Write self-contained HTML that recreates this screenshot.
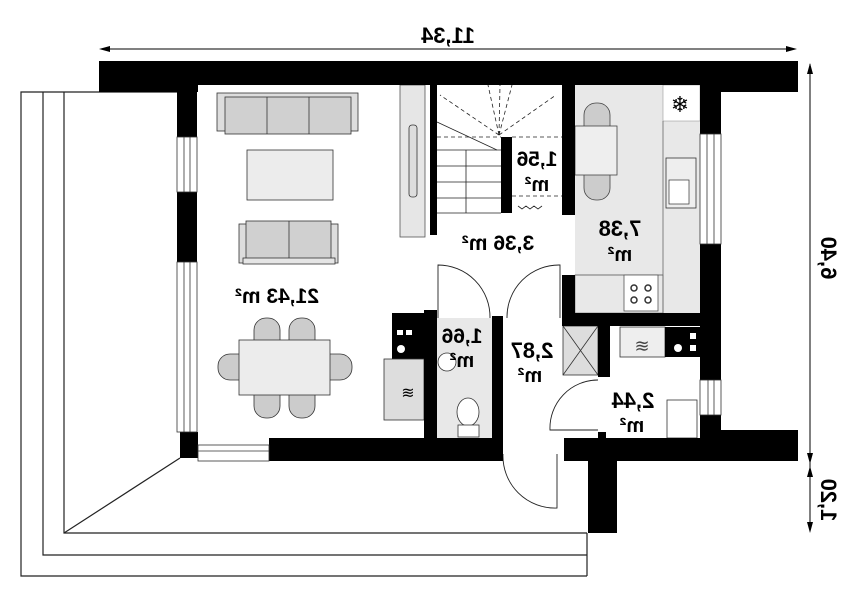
<!DOCTYPE html>
<html><head><meta charset="utf-8"><style>
html,body{margin:0;padding:0;background:#fff;width:860px;height:598px;overflow:hidden}
svg{display:block}
text{font-family:"Liberation Sans",sans-serif;font-weight:bold;fill:#000}
</style></head><body>
<svg width="860" height="598" viewBox="0 0 860 598" xmlns="http://www.w3.org/2000/svg">
<!-- terrace lines -->
<g fill="none" stroke="#222" stroke-width="1.2">
<path d="M177 92 H21 V576 H587"/>
<path d="M43 92 V555 H587"/>
<path d="M64 92 V533 H587"/>
<path d="M64 533 L180 458"/>
<path d="M587 533 V576"/>
</g>
<!-- dimension lines -->
<g stroke="#000" stroke-width="1">
<line x1="101" y1="49" x2="795" y2="49"/>
<line x1="810" y1="64" x2="810" y2="530"/>
</g>
<polygon points="99,49 110,46 110,52" fill="#000"/>
<polygon points="797,49 786,46 786,52" fill="#000"/>
<polygon points="810,63 807,74 813,74" fill="#000"/>
<polygon points="810,464 807,453 813,453" fill="#000"/>
<polygon points="810,466 807,477 813,477" fill="#000"/>
<polygon points="810,533 807,522 813,522" fill="#000"/>
<!-- kitchen grey -->
<rect x="575" y="85" width="125" height="228" fill="#e8e8e8"/>
<rect x="663" y="85" width="37" height="36" fill="#fff" stroke="#888" stroke-width="0.5"/>
<rect x="575" y="275" width="88" height="38" fill="#e8e8e8" stroke="#666" stroke-width="0.6"/>
<line x1="663" y1="121" x2="663" y2="313" stroke="#666" stroke-width="0.8"/>
<line x1="575" y1="275" x2="663" y2="275" stroke="#666" stroke-width="0.8"/>
<!-- stove -->
<rect x="624" y="275" width="34" height="36" fill="#fff" stroke="#555" stroke-width="0.8"/>
<g fill="none" stroke="#333" stroke-width="1.5"><circle cx="634" cy="288" r="3"/><circle cx="648" cy="288" r="3"/><circle cx="634" cy="300" r="3"/><circle cx="648" cy="300" r="3"/></g>
<!-- sink -->
<rect x="666" y="158" width="30" height="50" fill="#eee" stroke="#333" stroke-width="0.8"/>
<rect x="669" y="180" width="20" height="24" fill="#fff" stroke="#333" stroke-width="0.7"/>
<text x="680" y="112" text-anchor="middle" style="font-size:22px;font-weight:normal">❄</text>
<!-- kitchen table -->
<rect x="584" y="103" width="26" height="97" rx="12" fill="#ccc" stroke="#444" stroke-width="0.8"/>
<rect x="575" y="126" width="42" height="49" fill="#eee" stroke="#444" stroke-width="0.8"/>
<!-- stairs -->
<g stroke="#222" stroke-width="0.8" fill="none">
<line x1="437" y1="150" x2="501" y2="150"/><line x1="437" y1="166" x2="501" y2="166"/>
<line x1="437" y1="182" x2="501" y2="182"/><line x1="437" y1="198" x2="501" y2="198"/>
<line x1="466" y1="150" x2="466" y2="213"/>
<line x1="437" y1="213" x2="501" y2="213"/>
<path d="M437 122 L497 150" />
<g stroke-dasharray="4,3"><line x1="499" y1="135" x2="440" y2="95"/><line x1="499" y1="135" x2="488" y2="85"/><line x1="499" y1="135" x2="500" y2="85"/><line x1="499" y1="135" x2="512" y2="85"/><line x1="499" y1="135" x2="556" y2="95"/><line x1="437" y1="137" x2="501" y2="137"/><line x1="512" y1="137" x2="562" y2="137"/><line x1="512" y1="196" x2="562" y2="196"/></g>
<path d="M518 206 l4 3 l4 -3 l4 3 l4 -3 l4 3 l4 -3"/>
</g>
<!-- TV unit -->
<rect x="400" y="85" width="25" height="152" fill="#e6e6e6" stroke="#555" stroke-width="0.8"/>
<rect x="409" y="125" width="8" height="72" rx="3" fill="#ddd" stroke="#333" stroke-width="0.8"/>
<!-- sofas -->
<g stroke="#333" stroke-width="0.8">
<rect x="217" y="93" width="141" height="38" fill="#ddd"/>
<rect x="225" y="97" width="126" height="37" fill="#d0d0d0"/>
<line x1="267" y1="97" x2="267" y2="134"/><line x1="309" y1="97" x2="309" y2="134"/>
<rect x="247" y="150" width="86" height="50" fill="#ececec"/>
<rect x="239" y="224" width="99" height="39" fill="#ddd"/>
<rect x="246" y="221" width="85" height="38" fill="#d0d0d0"/>
<line x1="289" y1="221" x2="289" y2="259"/>
<rect x="243" y="258" width="92" height="6" fill="#e5e5e5"/>
<!-- dining -->
<rect x="254" y="318" width="26" height="100" rx="12" fill="#ccc"/>
<rect x="289" y="318" width="26" height="100" rx="12" fill="#ccc"/>
<rect x="218" y="354" width="134" height="26" rx="12" fill="#ccc"/>
<rect x="239" y="340" width="91" height="55" fill="#ececec"/>
</g>
<!-- bathroom -->
<rect x="437" y="318" width="55" height="120" fill="#e8e8e8"/>
<circle cx="447" cy="362" r="9" fill="#fff" stroke="#333" stroke-width="0.8"/>
<ellipse cx="468" cy="412" rx="11" ry="14" fill="#fff" stroke="#333" stroke-width="0.8"/>
<rect x="458" y="425" width="21" height="12" fill="#fff" stroke="#333" stroke-width="0.8"/>
<!-- boiler/cabinet -->
<rect x="392" y="313" width="38" height="48" fill="#000"/>
<rect x="384" y="359" width="40" height="61" fill="#ddd" stroke="#333" stroke-width="0.8"/>
<rect x="397" y="330" width="6" height="5" fill="#fff"/><rect x="406" y="330" width="6" height="5" fill="#fff"/><circle cx="401" cy="349" r="4" fill="#fff"/>
<text x="408" y="398" text-anchor="middle" style="font-size:16px;font-weight:normal">≋</text>
<!-- shower/utility -->
<rect x="563" y="326" width="35" height="49" fill="#ddd" stroke="#333" stroke-width="0.8"/>
<path d="M563 326 L598 375 M598 326 L563 375" stroke="#333" stroke-width="0.8"/>
<rect x="620" y="327" width="45" height="30" fill="#eee" stroke="#333" stroke-width="0.8"/>
<text x="642" y="352" text-anchor="middle" style="font-size:18px;font-weight:normal;fill:#444">≋</text>
<rect x="665" y="327" width="35" height="30" fill="#000"/>
<circle cx="678" cy="348" r="4" fill="#fff"/><rect x="690" y="333" width="6" height="6" fill="#fff"/><rect x="690" y="345" width="6" height="6" fill="#fff"/>
<rect x="667" y="400" width="30" height="38" fill="#fff" stroke="#333" stroke-width="0.8"/>
<!-- door arcs -->
<g fill="none" stroke="#222" stroke-width="0.9">
<path d="M438 318 V265 A52 52 0 0 1 490 318"/>
<path d="M560 318 V265 A52 52 0 0 0 507 318"/>
<path d="M598 380 A48 48 0 0 0 550 430 H598"/>
<path d="M503 454 A52 52 0 0 0 557 508 V454"/>
</g>
<!-- walls -->
<g fill="#000">
<rect x="99" y="61" width="699" height="24"/>
<rect x="99" y="85" width="99" height="7"/>
<rect x="700" y="85" width="98" height="7"/>
<rect x="177" y="85" width="20" height="52"/>
<rect x="177" y="192" width="20" height="70"/>
<rect x="180" y="432" width="18" height="26"/>
<rect x="269" y="438" width="234" height="23"/>
<rect x="564" y="438" width="157" height="23"/>
<rect x="721" y="430" width="77" height="31"/>
<rect x="588" y="461" width="29" height="72"/>
<rect x="700" y="92" width="21" height="42"/>
<rect x="700" y="244" width="21" height="136"/>
<rect x="700" y="415" width="21" height="23"/>
<rect x="430" y="85" width="7" height="150"/>
<rect x="501" y="137" width="11" height="76"/>
<rect x="562" y="85" width="13" height="130"/>
<rect x="562" y="275" width="13" height="51"/>
<rect x="562" y="313" width="138" height="13"/>
<rect x="598" y="326" width="12" height="51"/>
<rect x="598" y="432" width="8" height="6"/>
<rect x="424" y="310" width="13" height="128"/>
<rect x="492" y="316" width="11" height="122"/>
</g>
<!-- windows -->
<g fill="#fff" stroke="#333" stroke-width="0.8">
<rect x="177" y="137" width="20" height="55"/><line x1="184" y1="137" x2="184" y2="192"/><line x1="190" y1="137" x2="190" y2="192"/>
<rect x="177" y="262" width="20" height="170"/><line x1="184" y1="262" x2="184" y2="432"/><line x1="190" y1="262" x2="190" y2="432"/>
<rect x="198" y="445" width="71" height="16"/><line x1="198" y1="451" x2="269" y2="451"/>
<rect x="700" y="134" width="21" height="110"/><line x1="707" y1="134" x2="707" y2="244"/><line x1="714" y1="134" x2="714" y2="244"/>
<rect x="700" y="380" width="21" height="35"/><line x1="708" y1="380" x2="708" y2="415"/><line x1="714" y1="380" x2="714" y2="415"/>
</g>
<!-- labels (mirrored) -->
<g text-anchor="middle">
<text transform="translate(448,43) scale(-1,1)" style="font-size:22px">11,34</text>
<text transform="translate(821,258) rotate(90) scale(-1,1)" style="font-size:22px">6,40</text>
<text transform="translate(821,500) rotate(90) scale(-1,1)" style="font-size:22px">1,20</text>
<text transform="translate(277,303) scale(-1,1)" style="font-size:21px">21,43 m²</text>
<text transform="translate(498,250) scale(-1,1)" style="font-size:21px">3,36 m²</text>
<text transform="translate(537,166) scale(-1,1)" style="font-size:21px">1,56</text>
<text transform="translate(537,191) scale(-1,1)" style="font-size:20px">m²</text>
<text transform="translate(620,236) scale(-1,1)" style="font-size:22px">7,38</text>
<text transform="translate(620,261) scale(-1,1)" style="font-size:20px">m²</text>
<text transform="translate(462,343) scale(-1,1)" style="font-size:21px">1,66</text>
<text transform="translate(462,367) scale(-1,1)" style="font-size:20px">m²</text>
<text transform="translate(532,358) scale(-1,1)" style="font-size:22px">2,87</text>
<text transform="translate(530,382) scale(-1,1)" style="font-size:20px">m²</text>
<text transform="translate(633,408) scale(-1,1)" style="font-size:22px">2,44</text>
<text transform="translate(632,432) scale(-1,1)" style="font-size:20px">m²</text>
</g>
</svg>
</body></html>
